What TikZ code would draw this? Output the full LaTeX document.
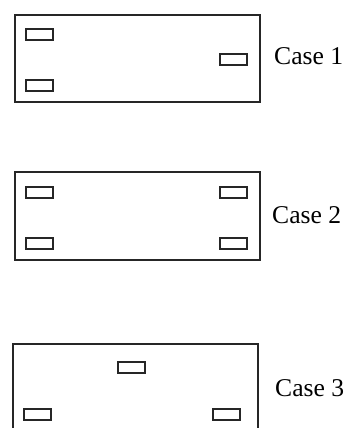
\documentclass[tikz,border=0pt]{standalone}
\usepackage{fontspec}
\setmainfont{Liberation Serif}
\begin{document}
\begin{tikzpicture}[x=1pt,y=-1pt,
  plate/.style={draw=black!85,line width=1.7pt,minimum width=245pt,minimum height=87pt,inner sep=0pt,outer sep=0pt},
  pad/.style={draw=black!85,line width=1.8pt,minimum width=27pt,minimum height=11pt,inner sep=0pt,outer sep=0pt},
  lbl/.style={anchor=base west,inner sep=0pt,font=\fontsize{25.6pt}{28pt}\selectfont}]
\useasboundingbox (0,0) rectangle (351,428);
\begin{scope}
\clip (0,0) rectangle (351,428);
% Case 1
\node[plate] (p1) at (137.5,58.5) {};
\node[pad] (p1a) at (39.5,34.5) {};
\node[pad] (p1b) at (39.5,85.5) {};
\node[pad] (p1c) at (233.5,59.5) {};
\node[lbl] (l1) at (274,65) {Case 1};
% Case 2
\node[plate,minimum height=88pt] (p2) at (137.5,216) {};
\node[pad] (p2a) at (39.5,192.5) {};
\node[pad] (p2b) at (233.5,192.5) {};
\node[pad] (p2c) at (39.5,243.5) {};
\node[pad] (p2d) at (233.5,243.5) {};
\node[lbl] (l2) at (272,223) {Case 2};
% Case 3
\node[plate,minimum height=88pt] (p3) at (135.5,388) {};
\node[pad] (p3a) at (131.5,367.5) {};
\node[pad] (p3b) at (37.5,414.5) {};
\node[pad] (p3c) at (226.5,414.5) {};
\node[lbl] (l3) at (275,396) {Case 3};
\end{scope}
\end{tikzpicture}
\end{document}
